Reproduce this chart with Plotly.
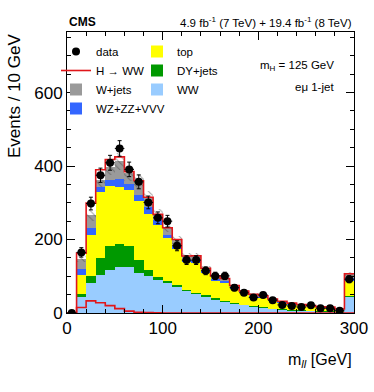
import numpy as np
import plotly.graph_objects as go

# m_ll bins (10 GeV), last bin holds the overflow
edges = list(range(0, 310, 10))
centers = [e + 5 for e in edges[:-1]]

# stacked backgrounds, bottom to top
ww = [0, 44, 83, 104, 116, 124, 124, 110, 100, 90, 82, 71, 60, 52, 45, 38, 32, 27, 22, 17,
      14, 11, 9, 8, 7, 6, 5, 4.5, 3.5, 45]
dy = [0, 7, 19, 47, 67, 64, 58, 33, 16, 8, 5, 4, 3, 3, 3, 2, 2, 1, 1, 1,
      1, 1, 1, 0.5, 0.5, 0.3, 0.3, 0.3, 0.2, 1]
top = [0, 53, 111, 179, 163, 156, 152, 162, 154, 142, 116, 99, 75, 82, 60, 48, 50, 40, 32, 28,
       27, 21, 18, 15.5, 12.5, 10.7, 9.7, 8.2, 4.3, 43]
wz = [0, 16, 19, 14, 16, 21, 16, 17, 18, 12, 9, 9, 7, 6, 6, 5, 4, 3, 2, 2,
      2, 2, 2, 1, 1, 1, 0.5, 0.5, 1, 5]
wjets = [0, 28, 34, 18, 36, 48, 30, 36, 26, 16, 20, 17, 10, 13, 8, 8, 6, 4, 3, 3,
         3, 3, 2, 2, 2, 2, 1.5, 2.5, 2, 13]
higgs = [0, 15, 33, 28, 20, 12, 5, 2, 1, 0.5, 0, 0, 0, 0, 0, 0, 0, 0, 0, 0,
         0, 0, 0, 0, 0, 0, 0, 0, 0, 0]
data = [0, 165, 298, 375, 409, 448, 391, 357, 301, 259, 250, 183, 144, 144, 115, 101, 101, 69, 55, 42,
        49, 35, 22, 19, 16, 21, 13, 13, 6, 92]

FONT = "Liberation Sans, Arial, Helvetica, sans-serif"

components = [
    ("WW", ww, "#99ccff", "legend2", 3),
    ("DY+jets", dy, "#009900", "legend2", 2),
    ("top", top, "#ffff00", "legend2", 1),
    ("WZ+ZZ+VVV", wz, "#3366ff", "legend", 4),
    ("W+jets", wjets, "#9a9a9a", "legend", 3),
]

fig = go.Figure()

base = np.zeros(len(centers))
for name, vals, col, leg, rank in components:
    vals = np.array(vals, dtype=float)
    fig.add_trace(go.Bar(
        x=centers, y=vals, base=base, width=10, name=name,
        marker=dict(color=col, line=dict(width=0)), legend=leg, legendrank=rank,
    ))
    base = base + vals
bkg = base

# uncertainty hatch on top of stack
unc = bkg * 0.055
fig.add_trace(go.Bar(
    x=centers, y=2 * unc, base=bkg - unc, width=10, showlegend=False,
    marker=dict(color="rgba(0,0,0,0)", line=dict(width=0),
                pattern=dict(shape="\\", fgcolor="#444444", bgcolor="rgba(0,0,0,0)",
                             size=5, solidity=0.2)),
))

# signal stacked on top of backgrounds (outline)
total = bkg + np.array(higgs)
fig.add_trace(go.Scatter(
    x=edges, y=list(total) + [total[-1]], mode="lines", line_shape="hv",
    line=dict(color="#e0161a", width=1.6), showlegend=False,
))

# signal alone
fig.add_trace(go.Scatter(
    x=edges, y=higgs + [higgs[-1]], mode="lines", line_shape="hv",
    line=dict(color="#e0161a", width=1.6), name="H \u2192 WW", legend="legend", legendrank=2,
))

# data
fig.add_trace(go.Scatter(
    x=centers, y=data, mode="markers", name="data", legend="legend", legendrank=1,
    marker=dict(color="black", size=8),
    error_y=dict(type="data", array=np.sqrt(data), color="black", thickness=1, width=2),
    error_x=dict(type="constant", value=5, color="black", thickness=1, width=0),
))

fig.update_layout(
    width=374, height=392,
    margin=dict(l=67, r=20, t=32, b=79, autoexpand=False),
    plot_bgcolor="white", paper_bgcolor="white",
    barmode="overlay", bargap=0,
    font=dict(family=FONT, color="black", size=12),
    legend=dict(x=56 / 374, y=1 - 37 / 392, xref="container", yref="container",
                xanchor="left", yanchor="top", bgcolor="rgba(0,0,0,0)",
                font=dict(size=11.5), traceorder="normal", itemwidth=30),
    legend2=dict(x=137 / 374, y=1 - 37 / 392, xref="container", yref="container",
                 xanchor="left", yanchor="top", bgcolor="rgba(0,0,0,0)",
                 font=dict(size=11.5), traceorder="normal", itemwidth=30),
)

fig.update_xaxes(
    range=[0, 300], tickvals=[0, 100, 200, 300], ticks="inside", ticklen=8,
    minor=dict(dtick=20, ticks="inside", ticklen=4, tickcolor="black"),
    showline=True, linecolor="black", linewidth=1, mirror="allticks",
    showgrid=False, zeroline=False, tickfont=dict(size=17), tickcolor="black",
)
fig.update_yaxes(
    range=[0, 765], tickvals=[0, 200, 400, 600], ticks="inside", ticklen=8,
    minor=dict(dtick=50, ticks="inside", ticklen=4, tickcolor="black"),
    showline=True, linecolor="black", linewidth=1, mirror="allticks",
    showgrid=False, zeroline=False, tickfont=dict(size=17), tickcolor="black",
)

fig.add_annotation(x=-53 / 287, y=1, xref="paper", yref="paper", xanchor="center", yanchor="top",
                   text="Events / 10 GeV", textangle=-90, showarrow=False, font=dict(size=17))
fig.add_annotation(x=0, y=1, xref="paper", yref="paper", xanchor="left", yanchor="bottom",
                   text="<b>CMS</b>", showarrow=False, font=dict(size=12), yshift=1)
fig.add_annotation(x=1, y=1, xref="paper", yref="paper", xanchor="right", yanchor="bottom",
                   text="4.9 fb<sup>-1</sup> (7 TeV) + 19.4 fb<sup>-1</sup> (8 TeV)",
                   showarrow=False, font=dict(size=11.5), yshift=1)
fig.add_annotation(x=0.937, y=(313 - 57) / 281, xref="paper", yref="paper", xanchor="right",
                   text="m<sub>H</sub> = 125 GeV", showarrow=False, font=dict(size=11.5))
fig.add_annotation(x=0.937, y=(313 - 79) / 281, xref="paper", yref="paper", xanchor="right",
                   text="e\u03bc 1-jet", showarrow=False, font=dict(size=11.5))
fig.add_annotation(x=1, y=-47 / 281, xref="paper", yref="paper", xanchor="right", yanchor="middle",
                   text="m<sub><i>ll</i></sub> [GeV]", showarrow=False, font=dict(size=16))

fig.write_html("out.html", config={"displayModeBar": False},
               post_script="document.body.style.margin='0';")
